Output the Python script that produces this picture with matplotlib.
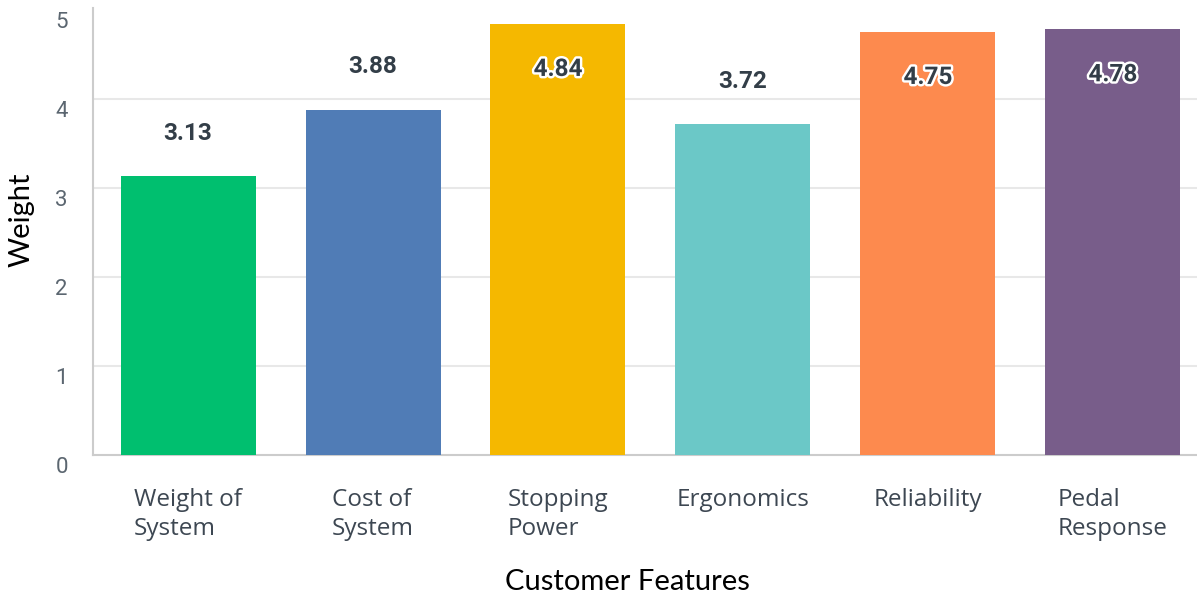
import matplotlib
matplotlib.use("Agg")
import matplotlib.pyplot as plt
import matplotlib.patheffects as pe
import matplotlib.transforms as mtransforms

categories = ["Weight of\nSystem", "Cost of\nSystem", "Stopping\nPower", "Ergonomics", "Reliability", "Pedal\nResponse"]
values = [3.13, 3.88, 4.84, 3.72, 4.75, 4.78]
colors = ["#00bf6f", "#507cb6", "#f5b800", "#6bc8c7", "#fd8a4e", "#785d8a"]
yticks = [0, 1, 2, 3, 4, 5]

fig = plt.figure(figsize=(11.97, 5.99), dpi=100)
ax = fig.add_axes([93/1197, 1 - 455/599, (1197-93)/1197, (455-8)/599])

x = list(range(len(values)))
ax.bar(x, values, width=0.73, color=colors, zorder=3)
ax.set_xlim(-0.514, 5.455)
ax.set_ylim(0, 5.02)

for v in [1, 2, 3, 4]:
    ax.axhline(v, color="#e8e8e8", lw=1.5, zorder=1)

for xi, v in zip(x, values):
    if v > 4.5:
        t = ax.text(xi, v - 0.51, f"{v:.2f}", ha="center", va="center",
                    fontsize=17.5, fontweight="bold", color="#333e48",
                    family="Roboto", zorder=5)
        t.set_path_effects([pe.withStroke(linewidth=3.5, foreground="white")])
    else:
        ax.text(xi, v + 0.48, f"{v:.2f}", ha="center", va="center",
                fontsize=17.5, fontweight="bold", color="#333e48",
                family="Roboto", zorder=5)

for s in ["top", "right"]:
    ax.spines[s].set_visible(False)
for s in ["left", "bottom"]:
    ax.spines[s].set_color("#cccccc")
    ax.spines[s].set_linewidth(1.5)

ax.set_yticks(yticks)
ax.set_yticklabels([str(t) for t in yticks], family="Roboto", fontsize=16, color="#5b6670")
ax.tick_params(axis="y", length=0, pad=18)
offset = mtransforms.ScaledTranslation(0, -10/100, fig.dpi_scale_trans)
for lab in ax.get_yticklabels():
    lab.set_transform(lab.get_transform() + offset)

ax.set_xticks(x)
ax.set_xticklabels(categories, family="Open Sans", fontsize=17.5, color="#3d4752",
                   multialignment="left", linespacing=1.28)
ax.tick_params(axis="x", length=0, pad=24)

fig.text(22/1197, 1 - 220/599, "Weight", family="Lato", fontsize=21, color="black",
         rotation=90, ha="center", va="center")
fig.text(627/1197, 1 - 582/599, "Customer Features", family="Lato", fontsize=21,
         color="black", ha="center", va="center")

fig.savefig("out.png", dpi=100)
